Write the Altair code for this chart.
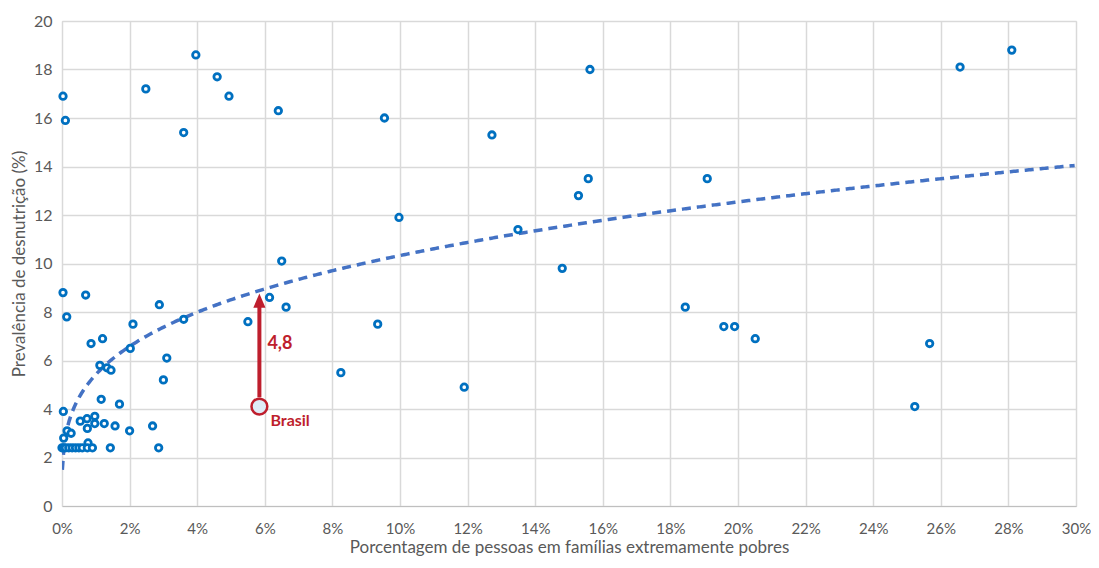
import altair as alt
import pandas as pd

# Scatter data (x: % people in extremely poor families, y: undernourishment prevalence %)
pobreza = [0.03, 0.1, 0.03, 0.14, 0.04, 0.05, 0.15, 0.27,
           0.54, 0.74, 0.97, 0.75, 0.97, 1.25, 1.57, 2.0, 2.68,
           0.77, 1.16, 1.7,
           0.0, 0.05, 0.1, 0.2, 0.3, 0.4, 0.5, 0.6, 0.75, 0.9, 1.43, 2.86,
           0.7, 2.88, 3.6, 2.1, 0.86, 1.2, 2.02, 3.1, 1.12, 1.33, 1.45, 3.0,
           5.5, 6.14, 6.63, 6.5,
           3.96, 2.48, 4.59, 4.94, 6.4, 3.6, 9.54, 12.72,
           9.97, 13.49, 15.57, 15.28, 14.8, 11.9, 19.09, 18.44, 19.58, 19.9,
           20.51, 25.23, 25.67, 26.57, 28.1, 15.62, 8.25, 9.34]
desnutricao = [16.9, 15.9, 8.8, 7.8, 3.9, 2.8, 3.1, 3.0,
               3.5, 3.6, 3.7, 3.2, 3.4, 3.4, 3.3, 3.1, 3.3,
               2.6, 4.4, 4.2,
               2.4, 2.4, 2.4, 2.4, 2.4, 2.4, 2.4, 2.4, 2.4, 2.4, 2.4, 2.4,
               8.7, 8.3, 7.7, 7.5, 6.7, 6.9, 6.5, 6.1, 5.8, 5.7, 5.6, 5.2,
               7.6, 8.6, 8.2, 10.1,
               18.6, 17.2, 17.7, 16.9, 16.3, 15.4, 16.0, 15.3,
               11.9, 11.4, 13.5, 12.8, 9.8, 4.9, 13.5, 8.2, 7.4, 7.4,
               6.9, 4.1, 6.7, 18.1, 18.8, 18.0, 5.5, 7.5]

# Brazil
brasil_x = [5.84]
brasil_y = [4.1]
gap_label = ["4,8"]

# Power trendline coefficients (y = A * x^B), as in the spreadsheet fit
trend_a = 5.42
trend_b = 0.28

x_ticks = list(range(0, 31, 2))
y_ticks = list(range(0, 21, 2))

RED = "#BE1E2D"
FONT = "Lato"
GRAY = "#595959"

df = pd.DataFrame({"x": pobreza, "y": desnutricao})
br = pd.DataFrame({"x": brasil_x, "y": brasil_y, "lbl": gap_label})

xscale = alt.Scale(domain=[0, 30], nice=False, zero=True)
yscale = alt.Scale(domain=[0, 20], nice=False)

xax = alt.Axis(values=x_ticks, labelExpr="datum.value + '%'", title="Porcentagem de pessoas em famílias extremamente pobres",
               grid=True, gridColor="#D9D9D9", gridWidth=1.5, ticks=False, domainColor="#BFBFBF",
               labelColor=GRAY, labelFontSize=15, labelPadding=15, labelFlush=False, titleColor=GRAY, titleFontSize=17,
               titleFontWeight="normal", titlePadding=3, labelFont=FONT, titleFont=FONT)
yax = alt.Axis(values=y_ticks, title="Prevalência de desnutrição (%)",
               grid=True, gridColor="#D9D9D9", gridWidth=1.5, ticks=False, domainColor="#D9D9D9",
               labelColor=GRAY, labelFontSize=16, labelPadding=10, labelFlush=False, titleColor=GRAY, titleFontSize=17,
               titleFontWeight="normal", titlePadding=5, labelFont=FONT, titleFont=FONT)

base_x = alt.X("x:Q", scale=xscale, axis=xax)
base_y = alt.Y("y:Q", scale=yscale, axis=yax)

trend = alt.Chart(alt.sequence(0.01, 30.01, 0.05, as_="x")).transform_calculate(
    y=f"{trend_a} * pow(datum.x, {trend_b})"
).mark_line(color="#4472C4", strokeWidth=3.5, strokeDash=[9, 6], clip=True).encode(x=base_x, y=base_y)

pts = alt.Chart(df).mark_point(shape="circle", filled=False, fill="white", fillOpacity=1,
                              stroke="#0070C0", strokeWidth=2.8, size=42, opacity=1).encode(
    x=alt.X("x:Q", scale=xscale), y=alt.Y("y:Q", scale=yscale))

arrow_line = alt.Chart(br).transform_calculate(y1="datum.y + 0.38", y2="datum.y + 4.2").mark_rule(
    color=RED, strokeWidth=4).encode(x=alt.X("x:Q", scale=xscale), y=alt.Y("y1:Q", scale=yscale), y2="y2:Q")

arrow_head = alt.Chart(br).transform_calculate(yh="datum.y + 4.37").mark_point(
    shape="M -0.86 1 L 0 -1 L 0.86 1 Z", filled=True, fill=RED, stroke=RED, strokeWidth=0, size=200, opacity=1).encode(
    x=alt.X("x:Q", scale=xscale), y=alt.Y("yh:Q", scale=yscale))

br_pt = alt.Chart(br).mark_point(shape="circle", filled=False, fill="#DEEBF7", fillOpacity=1,
                                 stroke=RED, strokeWidth=2.5, size=250, opacity=1).encode(
    x=alt.X("x:Q", scale=xscale), y=alt.Y("y:Q", scale=yscale))

gap_txt = alt.Chart(br).transform_calculate(ty="datum.y + 2.6").mark_text(
    align="left", baseline="middle", dx=8, font=FONT, fontSize=18, fontWeight="bold", color=RED).encode(
    x=alt.X("x:Q", scale=xscale), y=alt.Y("ty:Q", scale=yscale), text="lbl:N")

br_txt = alt.Chart(br).mark_text(
    align="left", baseline="middle", dx=11, dy=14, font=FONT, fontSize=16, fontWeight="bold", color=RED,
    text="Brasil").encode(x=alt.X("x:Q", scale=xscale), y=alt.Y("y:Q", scale=yscale))

chart = alt.layer(trend, pts, arrow_line, arrow_head, br_pt, gap_txt, br_txt).properties(
    width=1014, height=485,
    autosize=alt.AutoSizeParams(type="none"),
    padding={"left": 54, "top": 13, "right": 15, "bottom": 54},
).configure_view(fill="#EDF7FC", stroke="#D9D9D9", strokeWidth=1.5).configure(background="white")

chart.save("out.html", embed_options={"renderer": "svg", "actions": False})
